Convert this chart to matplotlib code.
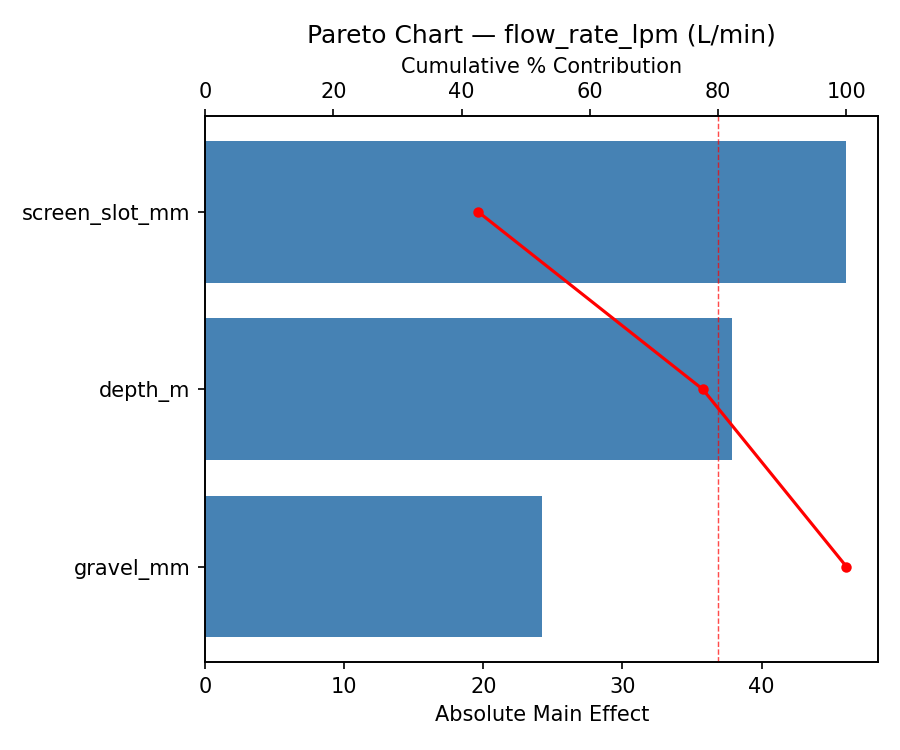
import matplotlib.pyplot as plt
import numpy as np

factors = ["screen_slot_mm", "depth_m", "gravel_mm"]
effects = [46.1, 37.9, 24.2]
cum_pct = [42.6, 77.6, 100.0]

fig, ax = plt.subplots(figsize=(6, 5), dpi=150)
y = np.arange(len(factors))
ax.barh(y, effects, color="steelblue")
ax.set_yticks(y)
ax.set_yticklabels(factors)
ax.invert_yaxis()
ax.set_xlabel("Absolute Main Effect")

ax2 = ax.twiny()
ax2.plot(cum_pct, y, color="red", marker="o", markersize=4)
ax2.axvline(80, color="red", linestyle="--", linewidth=0.7, alpha=0.7)
ax2.set_xlim(0, 105)
ax2.set_xlabel("Cumulative % Contribution")
ax2.set_title("Pareto Chart \u2014 flow_rate_lpm (L/min)", pad=7)

plt.subplots_adjust(left=0.228, right=0.976, top=0.845, bottom=0.117)
plt.savefig("out.png")
